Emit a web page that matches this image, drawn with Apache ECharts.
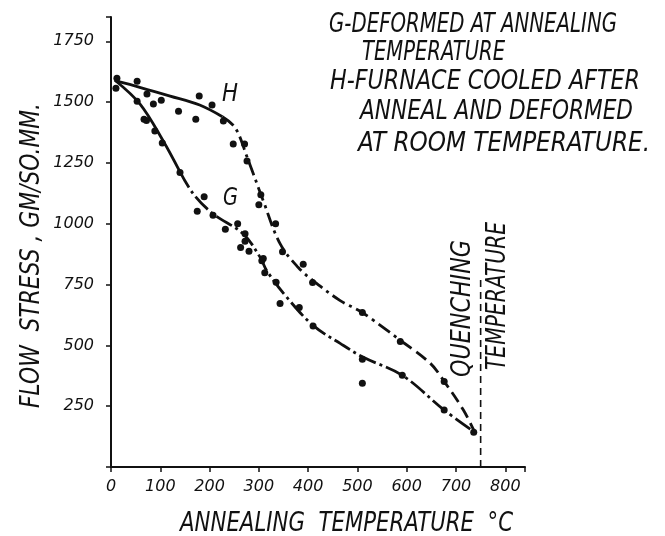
<!DOCTYPE html>
<html>
<head>
<meta charset="utf-8">
<script src="https://cdn.jsdelivr.net/npm/echarts@6/dist/echarts.min.js"></script>
<style>html,body{margin:0;background:#fff}#main{width:665px;height:536px}</style>
</head>
<body>
<div id="main"></div>
<script>
'use strict';
// flow stress vs annealing temperature, curves G and H

var xTicks = [0, 100, 200, 300, 400, 500, 600, 700, 800];
var yTicks = [250, 500, 750, 1000, 1250, 1500, 1750];

// measured points, curve H (furnace cooled, deformed at room temp)
var hPoints = [[12,1598],[10,1557],[53,1586],[73,1533],[86,1492],[102,1508],[137,1463],[172,1430],
  [179,1525],[205,1488],[228,1422],[248,1328],[271,1328],[276,1258],[304,1119],[300,1078],
  [334,1000],[348,885],[390,834],[409,758],[510,635],[587,516],[676,352],[736,143]];
// measured points, curve G (deformed at annealing temp)
var gPoints = [[53,1504],[67,1430],[72,1425],[89,1381],[104,1332],[140,1211],[175,1051],[189,1111],
  [207,1035],[232,977],[257,1000],[272,959],[272,928],[263,902],[280,887],[309,857],[306,848],
  [312,799],[335,760],[343,672],[382,656],[410,580],[510,443],[510,344],[591,377],[676,234]];

// fitted curves
var hSolid = [[8,1588],[60,1560],[120,1525],[180,1488],[226,1440]];
var hDashDot = [[226,1440],[252,1395],[276,1275],[309,1094],[343,918],[380,820],[410,766],
  [465,684],[510,635],[590,516]];
var hDashed = [[590,516],[648,426],[676,352],[715,234],[738,143]];
var gSolid = [[8,1590],[59,1492],[106,1340],[140,1213]];
var gDashDot = [[140,1213],[167,1123],[207,1041],[268,959],[303,861],[316,807],[357,697],
  [410,582],[465,508],[512,451],[591,377],[676,234],[738,143]];

var quenchX = 750;
var quenchLine = [[quenchX, 0], [quenchX, 770]];

var legendLines = [
  'G-DEFORMED AT ANNEALING',
  'TEMPERATURE',
  'H-FURNACE COOLED AFTER',
  'ANNEAL AND DEFORMED',
  'AT ROOM TEMPERATURE.'
];

var INK = '#111';
var FAM = '"DejaVu Sans Condensed", "DejaVu Sans", sans-serif';
var BIG = 'italic 27px ' + FAM;

var measureCtx = document.createElement('canvas').getContext('2d');

// text squeezed to a given width, like the narrow lettering of the original
function fitText(str, x, y, width, rot, font) {
	font = font || BIG;
	measureCtx.font = font;
	var w = measureCtx.measureText(str).width;
	return {
		type: 'text',
		x: x,
		y: y,
		rotation: rot || 0,
		scaleX: width / w,
		style: {
			text: str,
			font: font,
			fill: INK,
			textAlign: 'left',
			textVerticalAlign: 'middle'
		},
		z: 10
	};
}

function curve(data, type) {
	return {
		type: 'line',
		data: data,
		smooth: 0.35,
		symbol: 'none',
		lineStyle: { color: INK, width: 2.8, type: type },
		z: 2
	};
}

function dots(data) {
	return {
		type: 'scatter',
		data: data,
		symbol: 'circle',
		symbolSize: 7,
		itemStyle: { color: INK, opacity: 1 },
		z: 3
	};
}

var myChart = echarts.init(document.getElementById('main'));

var tickFont = {
	color: INK,
	fontStyle: 'italic',
	fontFamily: '"DejaVu Sans", sans-serif',
	fontSize: 16
};

var option = {
	backgroundColor: '#fff',
	animation: false,
	grid: { left: 111, right: 140, top: 17, bottom: 69 },
	xAxis: {
		type: 'value',
		min: 0,
		max: 840,
		interval: 100,
		axisLine: { lineStyle: { color: INK, width: 2 } },
		axisTick: { length: 5, lineStyle: { color: INK, width: 1.5 } },
		splitLine: { show: false },
		axisLabel: Object.assign({
			margin: 12,
			formatter: function (v) { return xTicks.indexOf(v) >= 0 ? String(v) : ''; }
		}, tickFont)
	},
	yAxis: {
		type: 'value',
		min: 0,
		max: 1850,
		interval: 250,
		axisLine: { show: true, lineStyle: { color: INK, width: 2 } },
		axisTick: { show: true, length: 5, lineStyle: { color: INK, width: 1.5 } },
		splitLine: { show: false },
		axisLabel: Object.assign({
			margin: 17,
			formatter: function (v) { return yTicks.indexOf(v) >= 0 ? String(v) : ''; }
		}, tickFont)
	},
	series: [
		curve(hSolid, 'solid'),
		curve(hDashDot, [14, 5, 3, 5]),
		curve(hDashed, [12, 6]),
		curve(gSolid, 'solid'),
		curve(gDashDot, [18, 4, 3, 4]),
		dots(hPoints),
		dots(gPoints),
		{
			type: 'line',
			data: quenchLine,
			symbol: 'none',
			lineStyle: { color: INK, width: 1.6, type: [7, 5] },
			z: 1
		}
	],
	graphic: [
		fitText(legendLines[0], 329, 25, 288),
		fitText(legendLines[1], 362, 53, 143),
		fitText(legendLines[2], 330, 82, 310),
		fitText(legendLines[3], 360, 112, 273),
		fitText(legendLines[4], 358, 144, 292),
		fitText('H', 222, 95, 16, 0, 'italic 24px ' + FAM),
		fitText('G', 223, 199, 15, 0, 'italic 24px ' + FAM),
		fitText('QUENCHING', 463, 377, 137, Math.PI / 2),
		fitText('TEMPERATURE', 498, 370, 148, Math.PI / 2),
		fitText('ANNEALING  TEMPERATURE  °C', 180, 524, 333),
		fitText('FLOW  STRESS , GM/SO.MM.', 32, 408, 305, Math.PI / 2)
	]
};
myChart.setOption(option);
</script>
</body>
</html>
